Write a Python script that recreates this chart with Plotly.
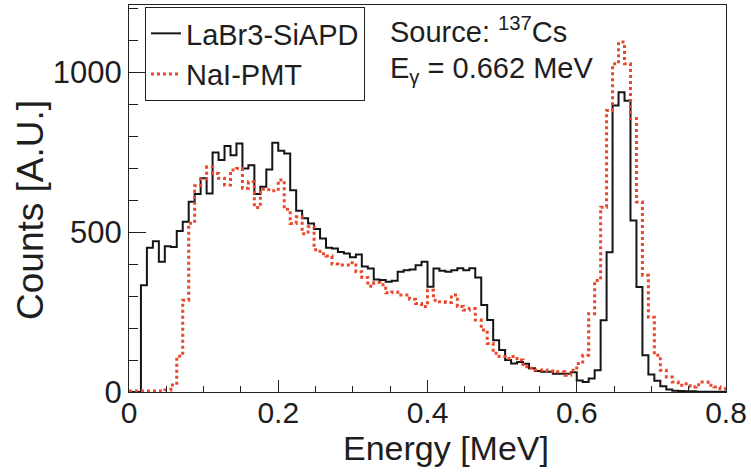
import numpy as np
import plotly.graph_objects as go

# ---- data (counts per 0.008 MeV bin, 0 - 0.8 MeV) ----
bin_width = 0.008
n_bins = 100

labr3_sipd = [
    0, 0, 334, 451, 471, 407, 456, 453, 503, 532,
    595, 619, 668, 621, 749, 725, 769, 740, 777, 699,
    709, 619, 642, 696, 779, 754, 746, 631, 567, 543,
    527, 510, 480, 451, 449, 438, 433, 421, 430, 392,
    386, 352, 350, 345, 348, 376, 381, 383, 396, 407,
    329, 386, 379, 376, 381, 387, 381, 387, 358, 272,
    225, 162, 131, 100, 89, 94, 88, 74, 66, 63,
    63, 57, 57, 57, 62, 36, 31, 42, 68, 224,
    437, 896, 937, 911, 536, 328, 115, 55, 35, 18,
    8, 4, 3, 2, 2, 1, 1, 1, 1, 1,
]

nai_pmt = [
    3, 3, 3, 3, 3, 3, 6, 22, 112, 287,
    528, 645, 665, 704, 683, 668, 647, 694, 699, 637,
    657, 577, 634, 632, 629, 663, 571, 527, 548, 495,
    517, 445, 432, 425, 400, 397, 397, 404, 376, 358,
    331, 342, 335, 310, 313, 303, 303, 290, 277, 267,
    318, 287, 282, 280, 303, 267, 256, 261, 225, 194,
    152, 121, 111, 105, 111, 100, 79, 74, 69, 69,
    66, 63, 63, 52, 68, 89, 115, 245, 349, 578,
    880, 1026, 1094, 1026, 855, 594, 365, 234, 115, 68,
    47, 31, 21, 26, 16, 23, 31, 21, 16, 10,
]

series_names = ["LaBr3-SiAPD", "NaI-PMT"]
x_ticks = [0, 0.2, 0.4, 0.6, 0.8]
x_tick_text = ["0", "0.2", "0.4", "0.6", "0.8"]
y_ticks = [0, 500, 1000]
y_tick_text = ["0", "500", "1000"]

edges = np.arange(n_bins + 1) * bin_width

FONT = "Liberation Sans, Arial, Helvetica, sans-serif"
TXT = "#1e1e1e"

fig = go.Figure()
fig.add_trace(go.Scatter(
    x=edges, y=np.append(labr3_sipd, labr3_sipd[-1]),
    mode="lines", line=dict(shape="hv", color="#151515", width=2),
    name=series_names[0], legendgroup="a",
))
fig.add_trace(go.Scatter(
    x=edges, y=np.append(nai_pmt, nai_pmt[-1]),
    mode="lines", line=dict(shape="hv", color="#e8482c", width=3, dash="dot"),
    name=series_names[1], legendgroup="b",
))

L, R, T, B = 129, 25, 5, 80
W, H = 751, 472
pw, ph = W - L - R, H - T - B

def px(xp):
    return (xp - L) / pw

def py(yp):
    return (H - B - yp) / ph

fig.update_layout(
    width=W, height=H,
    margin=dict(l=L, r=R, t=T, b=B, pad=0),
    paper_bgcolor="white", plot_bgcolor="white",
    font=dict(family=FONT, color=TXT),
    showlegend=True,
    legend=dict(
        x=px(145), y=py(7), xanchor="left", yanchor="top",
        bordercolor="#222", borderwidth=1, bgcolor="white",
        font=dict(size=29, family=FONT, color=TXT),
        tracegroupgap=0, itemwidth=30,
    ),
    xaxis=dict(
        range=[0, 0.8], tickvals=x_ticks, ticktext=x_tick_text,
        ticks="inside", ticklen=12, tickwidth=1, tickcolor="#222",
        minor=dict(dtick=0.05, ticks="inside", ticklen=6, tickcolor="#222", showgrid=False),
        showline=True, linecolor="#222", linewidth=1, mirror=True,
        showgrid=False, zeroline=False,
        ticklabelstandoff=-6,
        tickfont=dict(size=30, family=FONT, color=TXT),
    ),
    yaxis=dict(
        range=[0, 1210], tickvals=y_ticks, ticktext=y_tick_text,
        ticks="inside", ticklen=17, tickwidth=1, tickcolor="#222",
        minor=dict(dtick=100, ticks="inside", ticklen=9, tickcolor="#222", showgrid=False),
        showline=True, linecolor="#222", linewidth=1, mirror=True,
        showgrid=False, zeroline=False,
        tickfont=dict(size=31, family=FONT, color=TXT),
    ),
    annotations=[
        dict(text="Energy [MeV]", xref="paper", yref="paper",
             x=px(446), y=py(448), xanchor="center", yanchor="middle",
             showarrow=False, font=dict(size=34, family=FONT, color=TXT)),
        dict(text="Counts [A.U.]", xref="paper", yref="paper",
             x=px(30), y=py(210), xanchor="center", yanchor="middle", textangle=-90,
             showarrow=False, font=dict(size=37, family=FONT, color=TXT)),
        dict(text="Source: <sup>137</sup>Cs", xref="paper", yref="paper",
             x=px(388), y=py(30), xanchor="left", yanchor="middle",
             showarrow=False, font=dict(size=29, family=FONT, color=TXT)),
        dict(text="E<sub>γ</sub> = 0.662 MeV", xref="paper", yref="paper",
             x=px(388), y=py(70), xanchor="left", yanchor="middle",
             showarrow=False, font=dict(size=29, family=FONT, color=TXT)),
    ],
)

fig.write_html("out.html")
